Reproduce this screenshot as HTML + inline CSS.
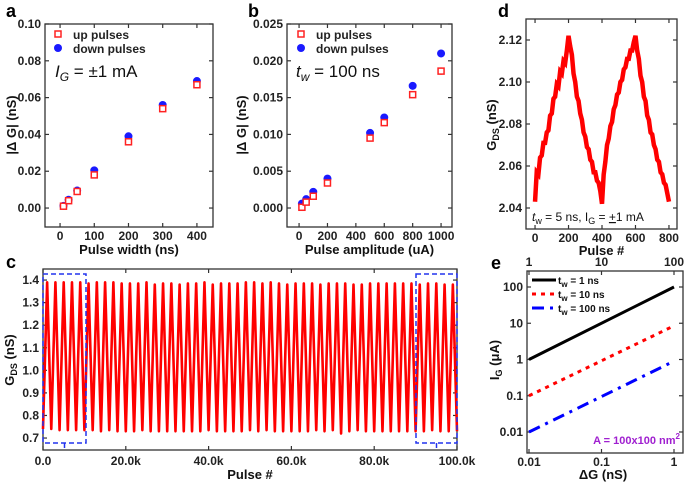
<!DOCTYPE html>
<html><head><meta charset="utf-8"><style>
html,body{margin:0;padding:0;background:#fff;}
svg{display:block;font-family:"Liberation Sans",Arial,sans-serif;}
.tk{font-size:12px;font-weight:bold;fill:#222;}
.ttl{font-size:13px;font-weight:bold;fill:#111;}
.pl{font-size:18px;font-weight:bold;fill:#000;}
</style></head><body>
<svg id="fig" width="685" height="485" viewBox="0 0 685 485"></svg>
<script>
// ---- data ----
const aWidths=[10,25,50,100,200,300,400];
const aUp=[0.001,0.004,0.009,0.018,0.036,0.054,0.067];
const aDown=[0.0012,0.0045,0.0095,0.0205,0.039,0.056,0.069];
const aYTicks=[0,0.02,0.04,0.06,0.08,0.10];
const aXTicks=[0,100,200,300,400];
const bAmps=[20,50,100,200,500,600,800,1000];
const bUp=[0.0001,0.0008,0.0016,0.0034,0.0095,0.0116,0.0154,0.0186];
const bDown=[0.0006,0.0012,0.0022,0.0040,0.0102,0.0123,0.0166,0.0210];
const bYTicks=[0,0.005,0.010,0.015,0.020,0.025];
const bXTicks=[0,200,400,600,800,1000];
const dValues=[2.043,2.057,2.056,2.064,2.065,2.071,2.071,2.076,2.077,2.084,2.085,2.092,2.093,2.099,2.098,2.105,2.104,2.110,2.109,2.115,2.122,
2.117,2.113,2.104,2.100,2.093,2.091,2.085,2.082,2.076,2.074,2.069,2.068,2.063,2.062,2.057,2.057,2.053,2.052,2.048,2.042,
2.056,2.062,2.070,2.073,2.079,2.081,2.087,2.089,2.094,2.095,2.100,2.101,2.106,2.107,2.111,2.111,2.115,2.115,2.119,2.122,
2.115,2.111,2.103,2.100,2.093,2.091,2.084,2.082,2.076,2.075,2.070,2.068,2.063,2.062,2.057,2.056,2.052,2.051,2.047,2.043];
const dStep=10;
const dYTicks=[2.04,2.06,2.08,2.10,2.12];
const dXTicks=[0,200,400,600,800];
const cPeaks=[1.39,1.39,1.39,1.39,1.39,1.385,1.39,1.39,1.39,1.385,1.385,1.385,1.39,1.38,1.385,1.385,1.38,1.385,1.385,1.39,1.38,1.385,1.385,1.385,1.39,1.39,1.385,1.39,1.385,1.38,1.385,1.385,1.385,1.38,1.385,1.385,1.385,1.38,1.38,1.385,1.385,1.385,1.385,1.385,1.385,1.38,1.385,1.385,1.38,1.38];
const cTroughs=[0.74,0.735,0.735,0.735,0.735,0.735,0.73,0.735,0.73,0.73,0.73,0.735,0.73,0.73,0.73,0.73,0.73,0.73,0.73,0.735,0.73,0.73,0.73,0.73,0.735,0.73,0.735,0.73,0.73,0.73,0.73,0.73,0.735,0.73,0.735,0.72,0.73,0.735,0.73,0.73,0.73,0.73,0.73,0.73,0.73,0.73,0.735,0.73,0.73,0.73];
const cPeriod=2000;
const cYTicks=[0.7,0.8,0.9,1.0,1.1,1.2,1.3,1.4];
const cXTicks=[0,20000,40000,60000,80000,100000];
const cXLabels=['0.0','20.0k','40.0k','60.0k','80.0k','100.0k'];
const eDG=[0.01,1];
const e1ns=[1,100];
const e10ns=[0.1,8.5];
const e100ns=[0.01,0.9];
const eXTicks=[0.01,0.1,1];
const eYTicks=[0.01,0.1,1,10,100];
const eTopTicks=[1,10,100];

const NS='http://www.w3.org/2000/svg';
const svg=document.getElementById('fig');
function el(t,at,p){const e=document.createElementNS(NS,t);for(const k in at)e.setAttribute(k,at[k]);(p||svg).appendChild(e);return e;}
function txt(s,x,y,cls,anchor,p){const t=el('text',{x:x,y:y,class:cls,'text-anchor':anchor||'middle'},p);t.textContent=s;return t;}
function lin(d0,d1,r0,r1){return v=>r0+(v-d0)/(d1-d0)*(r1-r0);}
function logs(d0,d1,r0,r1){return v=>r0+(Math.log10(v)-Math.log10(d0))/(Math.log10(d1)-Math.log10(d0))*(r1-r0);}
function frame(g,L,T,R,B){el('rect',{x:L,y:T,width:R-L,height:B-T,fill:'none',stroke:'#333','stroke-width':1.3},g);}
function xticks(g,xs,ticks,labels,T,B,ly){ticks.forEach((v,i)=>{const x=xs(v);
el('line',{x1:x,y1:B,x2:x,y2:B-4,stroke:'#333','stroke-width':1.2},g);
el('line',{x1:x,y1:T,x2:x,y2:T+4,stroke:'#333','stroke-width':1.2},g);
if(labels){const t=txt(labels[i],x,ly,'tk','middle',g);}});}
function yticks(g,ys,ticks,fmt,L,R){ticks.forEach(v=>{const y=ys(v);
el('line',{x1:L,y1:y,x2:L+4,y2:y,stroke:'#333','stroke-width':1.2},g);
el('line',{x1:R,y1:y,x2:R-4,y2:y,stroke:'#333','stroke-width':1.2},g);
const t=txt(fmt(v),L-4,y+4,'tk','end',g);});}
function vtitle(g,s,x,y,name){const t=el('text',{x:0,y:0,class:'ttl','text-anchor':'middle',transform:`translate(${x},${y}) rotate(-90)`},g);t.innerHTML=s;return t;}
function group(name){const g=el('g',{});return g;}
function sq(g,x,y){const r=el('rect',{x:x-3,y:y-3,width:6,height:6,fill:'#fff',stroke:'#f22','stroke-width':1.5},g);}
function dot(g,x,y){const c=el('circle',{cx:x,cy:y,r:4,fill:'#1a1aff'},g);}

// ---- panel a ----
(function(){const g=group('panel-a');const L=45,T=24,R=213,B=227;
const xs=lin(-44,447,L,R), ys=lin(-0.0103,0.1,B,T);
frame(g,L,T,R,B);
xticks(g,xs,aXTicks,aXTicks.map(String),T,B,240);
yticks(g,ys,aYTicks,v=>v.toFixed(2),L,R);
aWidths.forEach((w,i)=>{dot(g,xs(w),ys(aDown[i]));});
aWidths.forEach((w,i)=>{sq(g,xs(w),ys(aUp[i]));});
sq(g,58,34);txt('up pulses',73,39,'tk','start',g);dot(g,58,48);txt('down pulses',73,53,'tk','start',g);
const t=txt('',55,77,'','start',g);t.setAttribute('style','font-size:17px;fill:#111');t.innerHTML='<tspan font-style="italic">I</tspan><tspan font-style="italic" font-size="12" dy="4">G</tspan><tspan dy="-4"> = ±1 mA</tspan>';

txt('Pulse width (ns)',(L+R)/2,254,'ttl','middle',g);
vtitle(g,'|Δ G| (nS)',16,125,'y-axis-title-a');
txt('a',6,17,'pl','start',g);})();

// ---- panel b ----
(function(){const g=group('panel-b');const L=287,T=24,R=452,B=227;
const xs=lin(-85,1077,L,R), ys=lin(-0.00258,0.025,B,T);
frame(g,L,T,R,B);
xticks(g,xs,bXTicks,bXTicks.map(String),T,B,240);
yticks(g,ys,bYTicks,v=>v.toFixed(3),L,R);
bAmps.forEach((a,i)=>{dot(g,xs(a),ys(bDown[i]));});
el('line',{x1:xs(1000),y1:ys(0.0181),x2:xs(1000),y2:ys(0.0191),stroke:'#f22','stroke-width':1.2},g);
bAmps.forEach((a,i)=>{sq(g,xs(a),ys(bUp[i]));});
sq(g,301,34);txt('up pulses',316,39,'tk','start',g);dot(g,301,48);txt('down pulses',316,53,'tk','start',g);
const t=txt('',296,77,'','start',g);t.setAttribute('style','font-size:17px;fill:#111');t.innerHTML='<tspan font-style="italic">t</tspan><tspan font-style="italic" font-size="12" dy="4">w</tspan><tspan dy="-4"> = 100 ns</tspan>';

txt('Pulse amplitude (uA)',(L+R)/2,254,'ttl','middle',g);
vtitle(g,'|Δ G| (nS)',246,125,'y-axis-title-b');
txt('b',248,17,'pl','start',g);})();

// ---- panel d ----
(function(){const g=group('panel-d');const L=526,T=19,R=677,B=229;
const xs=lin(-54,848,L,R), ys=lin(2.03,2.13,B,T);
frame(g,L,T,R,B);
xticks(g,xs,dXTicks,dXTicks.map(String),T,B,242);
yticks(g,ys,dYTicks,v=>v.toFixed(2),L,R);
const p=el('polyline',{points:dValues.map((v,i)=>xs(i*dStep)+','+ys(v)).join(' '),fill:'none',stroke:'#f00','stroke-width':4.5,'stroke-linejoin':'miter'},g);

const t=txt('',532,221,'','start',g);t.setAttribute('style','font-size:12px;fill:#111');
t.innerHTML='<tspan font-style="italic">t</tspan><tspan font-size="9" dy="3">w</tspan><tspan dy="-3"> = 5 ns, I</tspan><tspan font-size="9" dy="3">G</tspan><tspan dy="-3"> = </tspan><tspan text-decoration="underline">+</tspan><tspan>1 mA</tspan>';

txt('Pulse #',(L+R)/2,255,'ttl','middle',g);
vtitle(g,'G<tspan font-size="9" dy="3">DS</tspan><tspan dy="-3"> (nS)</tspan>',496,125,'y-axis-title-d');
txt('d',498,17,'pl','start',g);})();

// ---- panel c ----
(function(){const g=group('panel-c');const L=43,T=269,R=457,B=450;
const xs=lin(0,100000,L,R), ys=lin(0.647,1.449,B,T);
frame(g,L,T,R,B);
xticks(g,xs,cXTicks,cXLabels,T,B,465);
yticks(g,ys,cYTicks,v=>v.toFixed(1),L,R);
const pts=[[0,cTroughs[0]]];
cPeaks.forEach((pk,i)=>{pts.push([i*cPeriod+cPeriod/2,pk]);pts.push([(i+1)*cPeriod,cTroughs[i]]);});
const p=el('polyline',{points:pts.map(q=>xs(q[0])+','+ys(q[1])).join(' '),fill:'none',stroke:'#f00','stroke-width':2.6,'stroke-linejoin':'round'},g);

[[43,86],[416,457]].forEach(b=>{const r=el('rect',{x:b[0],y:274,width:b[1]-b[0],height:169,fill:'none',stroke:'#2233ee','stroke-width':1.5,'stroke-dasharray':'5,3'},g);

el('line',{x1:(b[0]+b[1])/2,y1:443,x2:(b[0]+b[1])/2,y2:448,stroke:'#2233ee','stroke-width':1.5},g);});
txt('Pulse #',(L+R)/2,479,'ttl','middle',g);
vtitle(g,'G<tspan font-size="9" dy="3">DS</tspan><tspan dy="-3"> (nS)</tspan>',14,360,'y-axis-title-c');
txt('c',6,268,'pl','start',g);})();

// ---- panel e ----
(function(){const g=group('panel-e');const L=527,T=271,R=683,B=453;
const xs=logs(0.01,1,529,674), ys=logs(0.01,100,432,287);
frame(g,L,T,R,B);
xticks(g,xs,eXTicks,['0.01','0.1','1'],T,B,466);
eTopTicks.forEach((v,i)=>{const x=xs(eXTicks[i]);const t=txt(String(v),x,266,'tk','middle',g);});
yticks(g,ys,eYTicks,v=>String(v),L,R);
const mk=(arr,col,dash,name)=>{const l=el('line',{x1:xs(eDG[0]),y1:ys(arr[0]),x2:xs(eDG[1]),y2:ys(arr[1]),stroke:col,'stroke-width':3,'stroke-dasharray':dash},g);
};
mk(e1ns,'#000','none','line-1ns');mk(e10ns,'#f00','4,5','line-10ns');mk(e100ns,'#00f','12,6,3,6','line-100ns');
const leg=[['#000','none','1 ns'],['#f00','4,5','10 ns'],['#00f','12,6,3,6','100 ns']];
leg.forEach((q,i)=>{const y=280+i*14;el('line',{x1:532,y1:y,x2:556,y2:y,stroke:q[0],'stroke-width':3,'stroke-dasharray':q[1]},g);
const t=txt('',558,y+4,'','start',g);t.setAttribute('style','font-size:10px;font-weight:bold;fill:#111');
t.innerHTML='t<tspan font-size="8" dy="3">w</tspan><tspan dy="-3"> = '+q[2]+'</tspan>';});
const a=txt('',680,444,'','end',g);a.setAttribute('style','font-size:11px;font-weight:bold;fill:#a020d0');a.innerHTML='A = 100x100 nm<tspan font-size="8" dy="-5">2</tspan>';

txt('ΔG (nS)',603,479,'ttl','middle',g);
vtitle(g,'I<tspan font-size="9" dy="3">G</tspan><tspan dy="-3"> (μA)</tspan>',499,360,'y-axis-title-e');
txt('e',491,269,'pl','start',g);})();
</script>
</body></html>
